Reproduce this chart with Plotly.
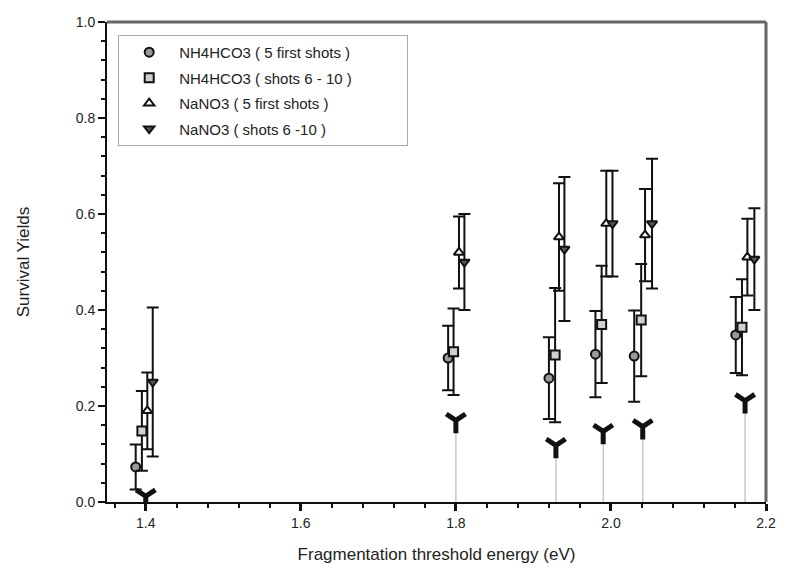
import plotly.graph_objects as go

# ---- data ----
series_names = [
    "NH4HCO3 ( 5 first shots )",
    "NH4HCO3 ( shots 6 - 10 )",
    "NaNO3 ( 5 first shots )",
    "NaNO3 ( shots 6 -10 )",
]

circle_x = [1.387, 1.790, 1.920, 1.980, 2.030, 2.161]
circle_y = [0.073, 0.300, 0.258, 0.308, 0.304, 0.348]
circle_err = [0.047, 0.067, 0.085, 0.090, 0.095, 0.079]

square_x = [1.395, 1.797, 1.928, 1.988, 2.039, 2.169]
square_y = [0.148, 0.313, 0.306, 0.370, 0.379, 0.364]
square_err = [0.083, 0.090, 0.140, 0.122, 0.117, 0.100]

triup_x = [1.402, 1.804, 1.933, 1.994, 2.044, 2.176]
triup_y = [0.190, 0.520, 0.552, 0.580, 0.556, 0.510]
triup_err = [0.080, 0.075, 0.112, 0.110, 0.096, 0.080]

tridn_x = [1.409, 1.811, 1.940, 2.002, 2.053, 2.185]
tridn_y = [0.250, 0.500, 0.527, 0.580, 0.580, 0.506]
tridn_err = [0.155, 0.100, 0.150, 0.110, 0.135, 0.106]

threshold_x = [1.400, 1.800, 1.929, 1.990, 2.041, 2.173]
threshold_y = [0.012, 0.170, 0.118, 0.147, 0.157, 0.211]

FONT = "Liberation Sans, Arial, sans-serif"
TXT = "#222222"

fig = go.Figure()

# threshold drop lines (light gray) drawn as one-sided error bars
fig.add_trace(go.Scatter(
    x=threshold_x, y=threshold_y, mode="markers",
    marker=dict(size=1, color="rgba(0,0,0,0)"),
    error_y=dict(type="data", symmetric=False,
                 array=[0] * len(threshold_y), arrayminus=threshold_y,
                 color="#c8c8c8", thickness=1.5, width=0),
    showlegend=False, hoverinfo="skip",
))
# V-shaped threshold markers
fig.add_trace(go.Scatter(
    x=threshold_x, y=threshold_y, mode="markers",
    marker=dict(symbol="y-down", size=16, color="#111111",
                line=dict(width=5, color="#111111")),
    showlegend=False, hoverinfo="skip",
))

specs = [
    (circle_x, circle_y, circle_err, "circle", "#999999"),
    (square_x, square_y, square_err, "square", "#d0d0d0"),
    (triup_x, triup_y, triup_err, "triangle-up", "#ffffff"),
    (tridn_x, tridn_y, tridn_err, "triangle-down", "#555555"),
]
for i, (xs, ys, es, sym, fill) in enumerate(specs):
    fig.add_trace(go.Scatter(
        x=xs, y=ys, mode="markers", name=series_names[i] + "\u00a0" * 12,
        legendgroup=f"g{i}",
        marker=dict(symbol=sym, size=9, color=fill,
                    line=dict(color="#111111", width=2)),
        error_y=dict(type="data", array=es, color="#111111",
                     thickness=2, width=6),
    ))

# frame: gray top and right borders
fig.add_shape(type="line", xref="paper", yref="paper", x0=0, x1=1, y0=1, y1=1,
              line=dict(color="#666666", width=3))
fig.add_shape(type="line", xref="paper", yref="paper", x0=1, x1=1, y0=0, y1=1,
              line=dict(color="#666666", width=3))

fig.update_layout(
    width=788, height=581,
    margin=dict(l=107, r=15, t=22, b=79),
    paper_bgcolor="white", plot_bgcolor="white",
    font=dict(family=FONT, size=14, color=TXT),
    showlegend=True,
    legend=dict(x=0.017, y=0.973, xanchor="left", yanchor="top",
                bordercolor="#aaaaaa", borderwidth=1, bgcolor="white",
                font=dict(size=15, family=FONT, color=TXT),
                tracegroupgap=3, itemwidth=50),
    xaxis=dict(range=[1.35, 2.2], tick0=0, dtick=0.2, tickformat=".1f",
               showgrid=False, zeroline=False,
               showline=True, linecolor="#111111", linewidth=2,
               ticks="outside", ticklen=7, tickwidth=2.5, tickcolor="#111111",
               minor=dict(dtick=0.04, tick0=0, ticks="outside", ticklen=4,
                          tickwidth=1.5, tickcolor="#111111", showgrid=False),
               tickfont=dict(size=14),
               title=dict(text="Fragmentation threshold energy (eV)",
                          font=dict(size=17), standoff=18)),
    yaxis=dict(range=[0, 1.0], tick0=0, dtick=0.2, tickformat=".1f",
               showgrid=False, zeroline=False,
               showline=True, linecolor="#111111", linewidth=2,
               ticks="outside", ticklen=7, tickwidth=2, tickcolor="#111111",
               minor=dict(dtick=0.04, tick0=0, ticks="outside", ticklen=4,
                          tickwidth=1.5, tickcolor="#111111", showgrid=False),
               tickfont=dict(size=14),
               title=dict(text="Survival Yields", font=dict(size=17),
                          standoff=42)),
)

fig.write_html("out.html")
